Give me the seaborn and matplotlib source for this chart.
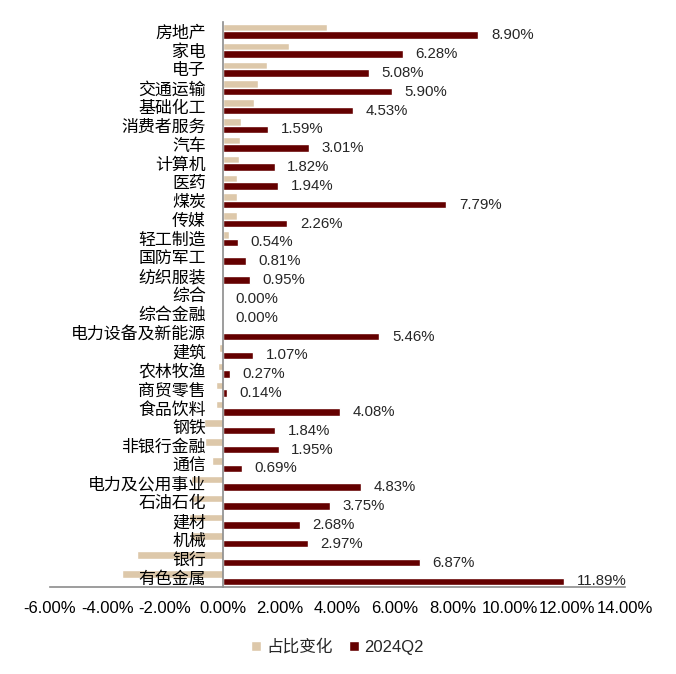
import numpy as np
import pandas as pd
import matplotlib
matplotlib.use("Agg")
import matplotlib.pyplot as plt
import seaborn as sns
from matplotlib.ticker import FixedLocator, FuncFormatter

industries = ["房地产", "家电", "电子", "交通运输", "基础化工", "消费者服务", "汽车", "计算机", "医药", "煤炭",
              "传媒", "轻工制造", "国防军工", "纺织服装", "综合", "综合金融", "电力设备及新能源", "建筑", "农林牧渔", "商贸零售",
              "食品饮料", "钢铁", "非银行金融", "通信", "电力及公用事业", "石油石化", "建材", "机械", "银行", "有色金属"]
change = [3.62, 2.33, 1.55, 1.23, 1.11, 0.66, 0.62, 0.58, 0.52, 0.52,
          0.49, 0.24, 0.05, 0.0, 0.0, 0.0, 0.0, -0.13, -0.15, -0.21,
          -0.21, -0.66, -0.60, -0.36, -1.11, -1.11, -1.18, -1.14, -2.97, -3.51]
q2_2024 = [8.90, 6.28, 5.08, 5.90, 4.53, 1.59, 3.01, 1.82, 1.94, 7.79,
           2.26, 0.54, 0.81, 0.95, 0.00, 0.00, 5.46, 1.07, 0.27, 0.14,
           4.08, 1.84, 1.95, 0.69, 4.83, 3.75, 2.68, 2.97, 6.87, 11.89]
series = ["占比变化", "2024Q2"]
colors = ["#DDC8AA", "#640000"]
xticks = [-6, -4, -2, 0, 2, 4, 6, 8, 10, 12, 14]

df = pd.DataFrame({
    "行业": industries * 2,
    "系列": [series[0]] * len(industries) + [series[1]] * len(industries),
    "值": change + q2_2024,
})

sns.set_theme(style="white")
plt.rcParams["font.family"] = ["Liberation Sans", "Noto Sans CJK SC"]

fig = plt.figure(figsize=(6.76, 6.74), dpi=100)
ax = fig.add_axes([50 / 676, 1 - 587 / 674, 575 / 676, (587 - 22) / 674])

sns.barplot(data=df, y="行业", x="值", hue="系列", order=industries, hue_order=series,
            palette=colors, width=0.8, ax=ax, orient="h", saturation=1)

ax.set_axisbelow(False)
ax.set_xlim(-6, 14)
ax.set_ylim(len(industries) - 0.5, -0.5)
ax.set_xlabel("")
ax.set_ylabel("")

ax.xaxis.set_major_locator(FixedLocator(xticks))
ax.xaxis.set_major_formatter(FuncFormatter(lambda v, p: f"{v:.2f}%"))
ax.tick_params(axis="x", length=0, labelsize=12, pad=10, colors="black")

for s in ["top", "right"]:
    ax.spines[s].set_visible(False)
ax.spines["left"].set_position(("data", 0))
ax.spines["left"].set_color("#8C8C8C")
ax.spines["bottom"].set_color("#8C8C8C")
ax.spines["left"].set_linewidth(1.2)
ax.spines["bottom"].set_linewidth(1.2)

ax.tick_params(axis="y", which="major", length=0, labelsize=12.2, pad=12, labelcolor="black")
ax.set_yticks(np.arange(len(industries) + 1) - 0.5, minor=True)
ax.tick_params(axis="y", which="minor", length=5, width=1, color="#8C8C8C", direction="out")

ax.bar_label(ax.containers[1], labels=[f"{v:.2f}%" for v in q2_2024], padding=9, fontsize=10.8)

handles, labels = ax.get_legend_handles_labels()
ax.legend(handles, labels, loc="center", bbox_to_anchor=(0.5, -0.106), ncol=2, frameon=False,
          fontsize=12, handlelength=0.6, handleheight=0.6, handletextpad=0.3, columnspacing=1.0)

fig.savefig("out.png", dpi=100)
